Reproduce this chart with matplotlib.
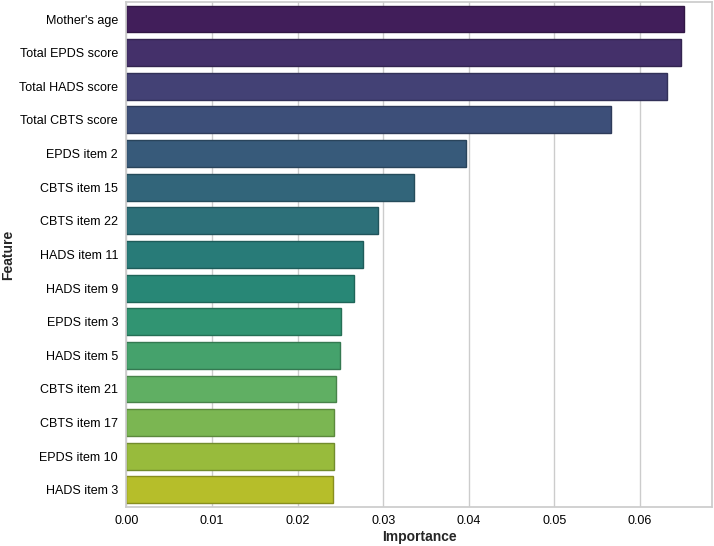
import numpy as np
import matplotlib
matplotlib.use("Agg")
import matplotlib.pyplot as plt
import seaborn as sns

features = ["Mother's age", "Total EPDS score", "Total HADS score", "Total CBTS score",
            "EPDS item 2", "CBTS item 15", "CBTS item 22", "HADS item 11", "HADS item 9",
            "EPDS item 3", "HADS item 5", "CBTS item 21", "CBTS item 17", "EPDS item 10",
            "HADS item 3"]
importance = [0.0652, 0.0648, 0.0632, 0.0566, 0.0397, 0.0336, 0.0294, 0.0277, 0.0266,
              0.0251, 0.0250, 0.0245, 0.0243, 0.0242, 0.0241]

sns.set_theme(style="whitegrid")
plt.rcParams['font.family'] = ['Liberation Sans', 'DejaVu Sans']

# viridis palette, desaturated like seaborn's barplot default, a touch darker
pal = sns.color_palette("viridis", len(features))
colors = [tuple(np.array(sns.desaturate(c, 0.8)) * 0.92) for c in pal]
edges = [tuple(np.array(c) * 0.75) for c in colors]

fig, ax = plt.subplots(figsize=(7.14, 5.46), dpi=100)
y = np.arange(len(features))
ax.barh(y, importance, height=0.8, color=colors, edgecolor=edges, linewidth=1)
ax.set_yticks(y)
ax.set_yticklabels(features, fontsize=9)
ax.set_ylim(len(features) - 0.5, -0.5)
ax.set_xlim(0, 0.0684)
ax.set_xticks([0, 0.01, 0.02, 0.03, 0.04, 0.05, 0.06])
ax.set_xticklabels(["0.00", "0.01", "0.02", "0.03", "0.04", "0.05", "0.06"], fontsize=9)
ax.grid(axis='y', visible=False)
ax.grid(axis='x', color='#cccccc', linewidth=1)
ax.set_axisbelow(True)
for s in ax.spines.values():
    s.set_color('#cccccc')
ax.tick_params(axis='both', length=0, pad=6, colors='black')
ax.set_xlabel("Importance", fontsize=10, fontweight='bold', labelpad=2)
ax.set_ylabel("Feature", fontsize=10, fontweight='bold')
ax.yaxis.set_label_coords(-0.19, 0.5)

plt.subplots_adjust(left=0.177, right=0.997, top=0.996, bottom=0.072)
plt.savefig("out.png", dpi=100)
